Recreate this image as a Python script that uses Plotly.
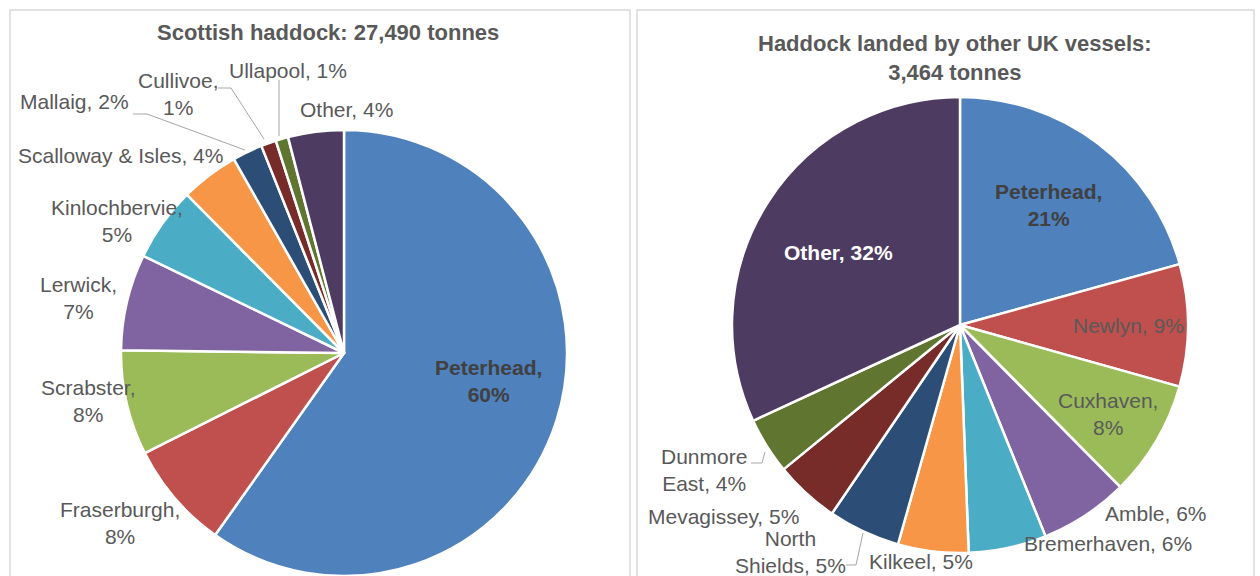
import plotly.graph_objects as go

W, H = 1260, 576

# Scottish vessels: landings by port (tonnes)
scot_ports = ["Peterhead", "Fraserburgh", "Scrabster", "Lerwick", "Kinlochbervie",
              "Scalloway & Isles", "Mallaig", "Cullivoe", "Ullapool", "Other"]
scot_tonnes = [16440, 2140, 2090, 1920, 1480, 1160, 600, 300, 250, 1110]
scot_total = 27490

# Other UK vessels: landings by port (tonnes)
uk_ports = ["Peterhead", "Newlyn", "Cuxhaven", "Amble", "Bremerhaven", "Kilkeel",
            "North Shields", "Mevagissey", "Dunmore East", "Other"]
uk_tonnes = [717, 300, 285, 218, 191, 173, 177, 159, 139, 1105]
uk_total = 3464

palette = ["#4F81BD", "#C0504D", "#9BBB59", "#8064A2", "#4BACC6",
           "#F79646", "#2C4D75", "#772C2A", "#5F7530", "#4D3B62"]

GREY = "#595959"
FONT = "Liberation Sans, Arial, sans-serif"


def px(x, y):
    return x / W, 1 - y / H


def pct_label(name, value, total, split):
    p = int(value / total * 100 + 0.5)
    if split == "name":
        words = name.split(" ")
        return words[0] + "<br>" + " ".join(words[1:]) + f", {p}%"
    sep = "<br>" if split == "pct" else " "
    return f"{name},{sep}{p}%"


fig = go.Figure()

# left pie: centre (344, 353), radius 223
fig.add_trace(go.Pie(
    labels=scot_ports, values=scot_tonnes, sort=False, direction="clockwise",
    rotation=0, textinfo="none", hoverinfo="label+value+percent",
    marker=dict(colors=palette, line=dict(color="white", width=2.5)),
    domain=dict(x=[121 / W, 567 / W], y=[0.0, 1 - 130 / H]),
    showlegend=False,
))

# right pie: centre (960, 325), radius 228
fig.add_trace(go.Pie(
    labels=uk_ports, values=uk_tonnes, sort=False, direction="clockwise",
    rotation=0, textinfo="none", hoverinfo="label+value+percent",
    marker=dict(colors=palette, line=dict(color="white", width=2.5)),
    domain=dict(x=[732 / W, 1188 / W], y=[1 - 553 / H, 1 - 97 / H]),
    showlegend=False,
))

# label placement: (pixel x, pixel y, line split, bold, colour)
scot_layout = [
    (488, 381, "pct", True, "#404040"),
    (120, 523, "pct", False, GREY),
    (88, 401, "pct", False, GREY),
    (78, 298, "pct", False, GREY),
    (117, 221, "pct", False, GREY),
    (120, 155, "none", False, GREY),
    (74, 101, "none", False, GREY),
    (178, 94, "pct", False, GREY),
    (288, 71, "none", False, GREY),
    (346, 109, "none", False, GREY),
]
uk_layout = [
    (1048, 205, "pct", True, "#404040"),
    (1128, 325, "none", False, GREY),
    (1108, 414, "pct", False, GREY),
    (1156, 513, "none", False, GREY),
    (1108, 543, "none", False, GREY),
    (921, 561, "none", False, GREY),
    (790, 552, "name", False, GREY),
    (723, 516, "none", False, GREY),
    (704, 470, "name", False, GREY),
    (838, 252, "none", True, "white"),
]

annotations = []
for names, vals, total, lay in ((scot_ports, scot_tonnes, scot_total, scot_layout),
                                (uk_ports, uk_tonnes, uk_total, uk_layout)):
    for name, v, (x, y, split, bold, col) in zip(names, vals, lay):
        txt = pct_label(name, v, total, split)
        if bold:
            txt = "<b>" + txt + "</b>"
        ax, ay = px(x, y)
        annotations.append(dict(
            x=ax, y=ay, xref="paper", yref="paper", text=txt, showarrow=False,
            xanchor="center", yanchor="middle", align="center",
            font=dict(family=FONT, size=21, color=col),
        ))

# chart titles
tx, ty = px(328, 32)
annotations.append(dict(
    x=tx, y=ty, xref="paper", yref="paper", showarrow=False,
    text=f"<b>Scottish haddock: {scot_total:,} tonnes</b>",
    xanchor="center", yanchor="middle",
    font=dict(family=FONT, size=22, color=GREY),
))
tx, ty = px(955, 58)
annotations.append(dict(
    x=tx, y=ty, xref="paper", yref="paper", showarrow=False,
    text=f"<b>Haddock landed by other UK vessels:<br>{uk_total:,} tonnes</b>",
    xanchor="center", yanchor="middle", align="center",
    font=dict(family=FONT, size=22, color=GREY),
))


def path(points):
    pts = [px(x, y) for x, y in points]
    return "M " + " L ".join(f"{a:.5f},{b:.5f}" for a, b in pts)


leaders = [
    [(133, 114), (147, 114), (245, 150)],   # Mallaig
    [(218, 88), (231, 88), (264, 139)],     # Cullivoe
    [(279, 80), (279, 136)],                # Ullapool
    [(846, 565), (856, 565), (863, 533)],   # North Shields
    [(751, 463), (762, 463), (765, 452)],   # Dunmore East
]

shapes = [
    dict(type="rect", xref="paper", yref="paper",
         x0=10 / W, x1=630 / W, y0=-0.02, y1=1 - 10 / H,
         line=dict(color="#D9D9D9", width=1.5), fillcolor="rgba(0,0,0,0)", layer="below"),
    dict(type="rect", xref="paper", yref="paper",
         x0=637 / W, x1=1254 / W, y0=-0.02, y1=1 - 10 / H,
         line=dict(color="#D9D9D9", width=1.5), fillcolor="rgba(0,0,0,0)", layer="below"),
]
for pts in leaders:
    shapes.append(dict(type="path", xref="paper", yref="paper", path=path(pts),
                       line=dict(color="#A6A6A6", width=1)))

fig.update_layout(
    width=W, height=H, margin=dict(l=0, r=0, t=0, b=0),
    paper_bgcolor="white", plot_bgcolor="white",
    annotations=annotations, shapes=shapes,
    font=dict(family=FONT, color=GREY),
)

fig.write_html("out.html")
